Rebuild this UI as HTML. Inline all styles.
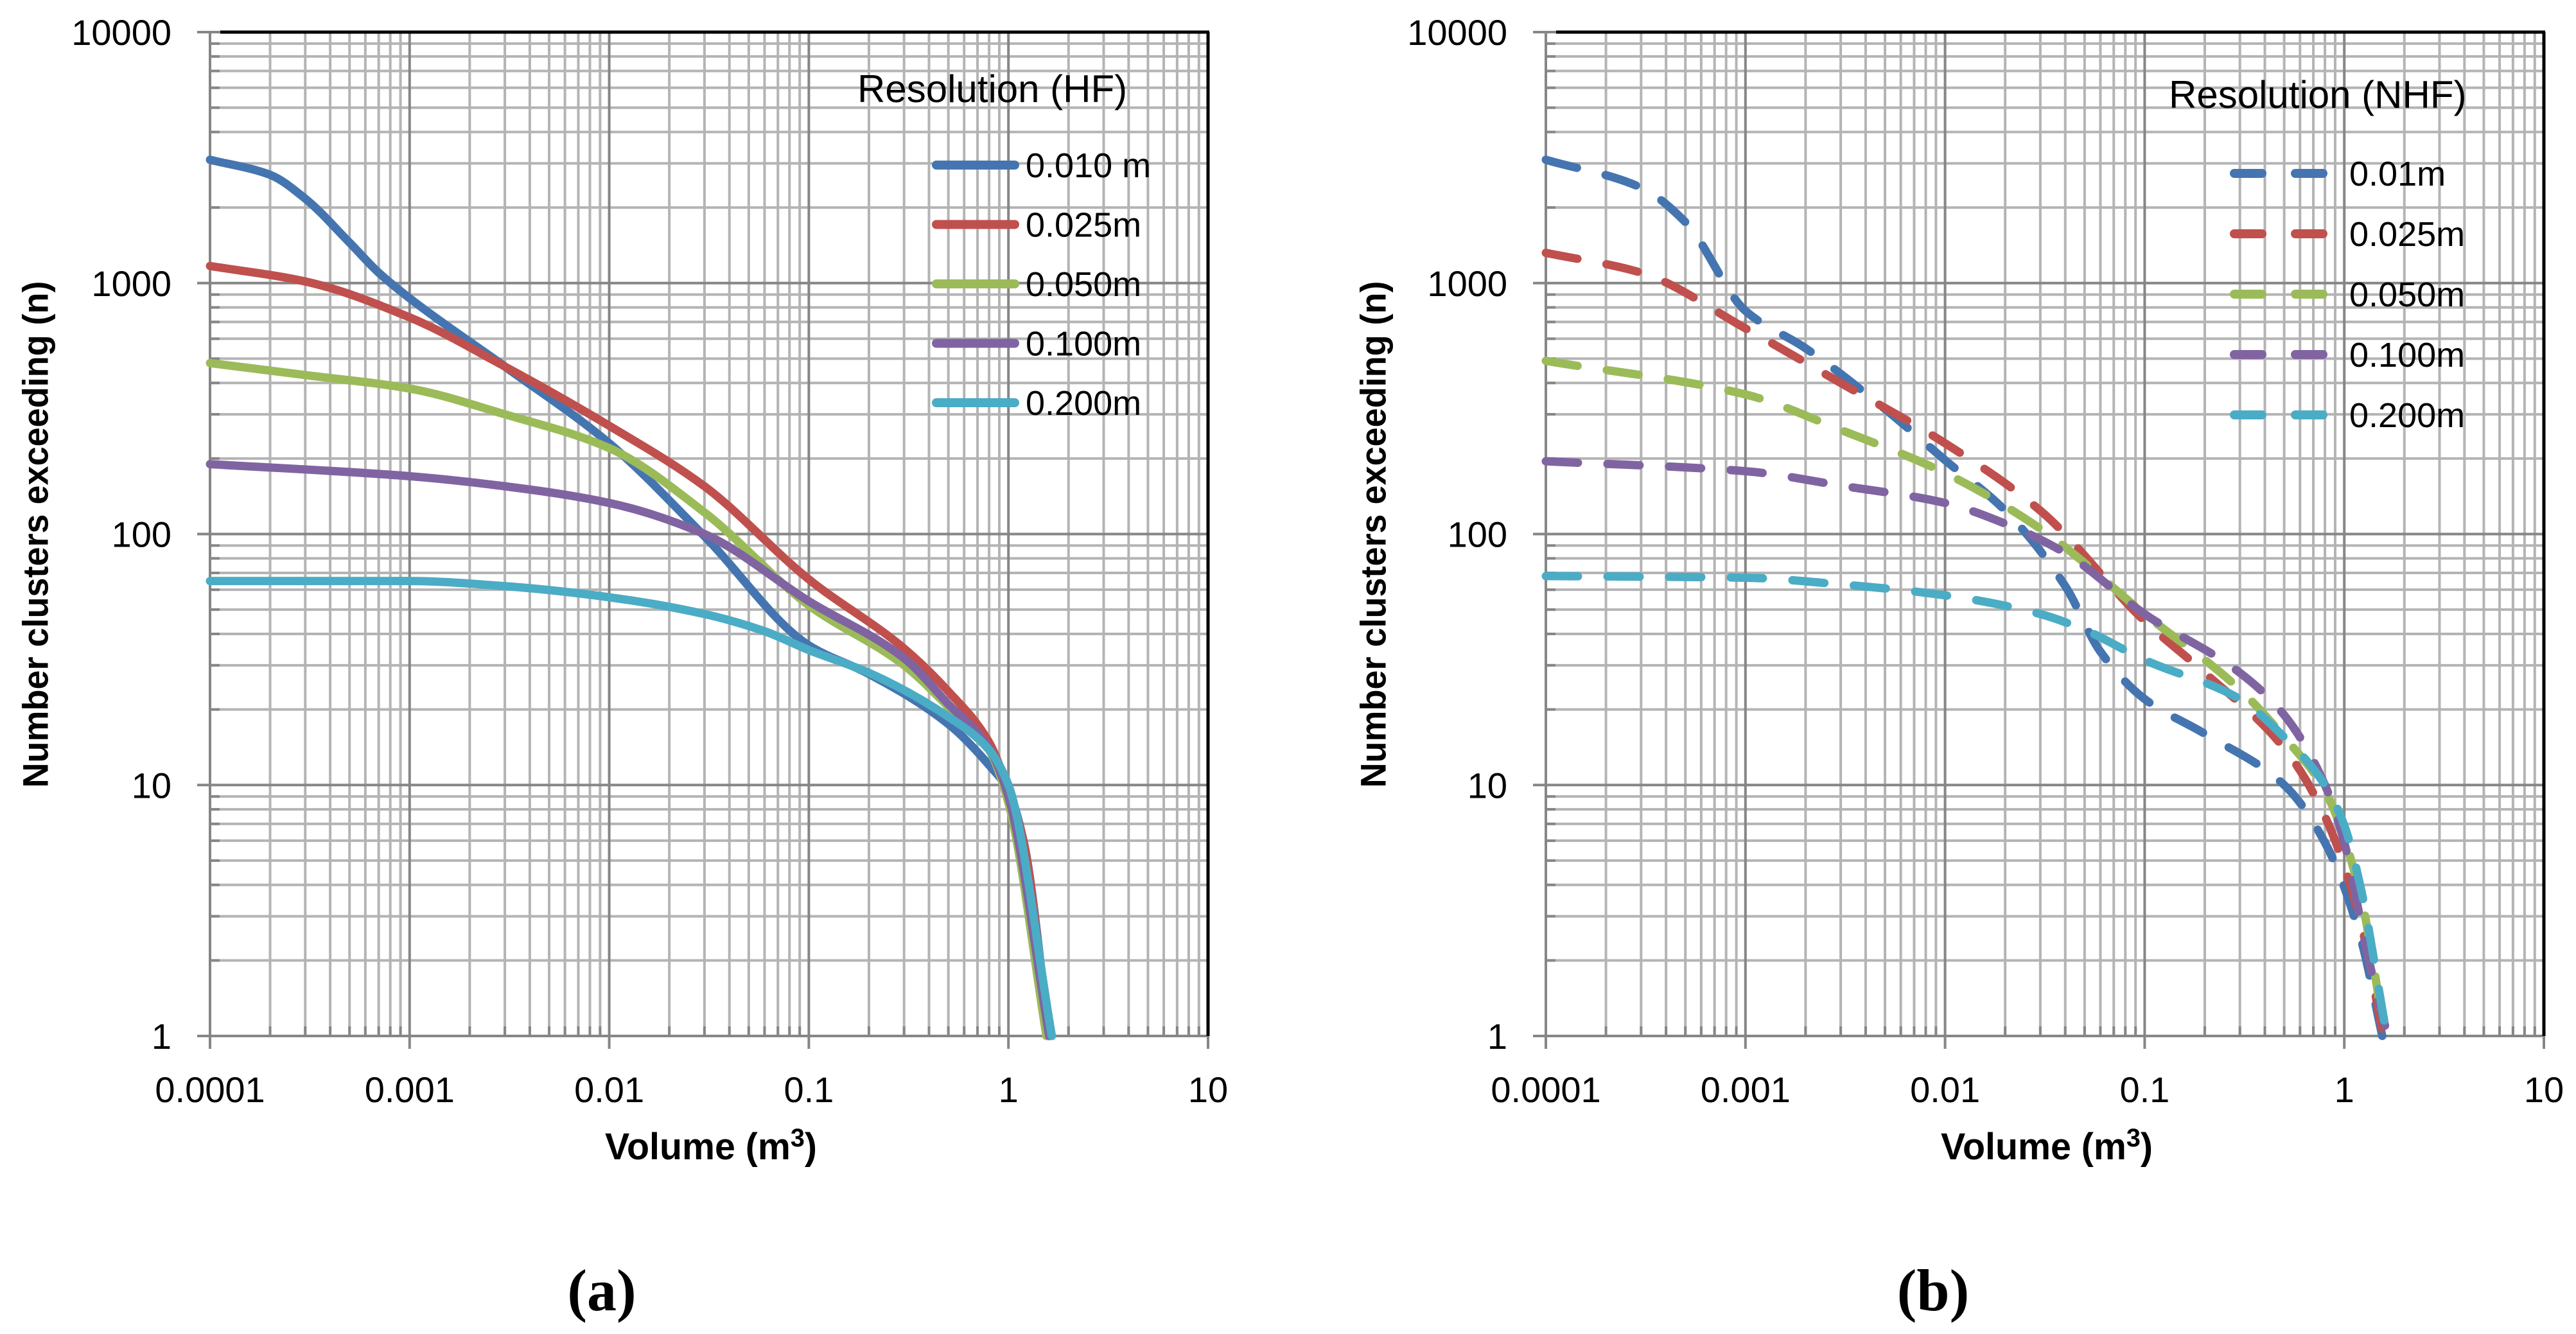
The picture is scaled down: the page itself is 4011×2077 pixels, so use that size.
<!DOCTYPE html>
<html><head><meta charset="utf-8"><style>
html,body{margin:0;padding:0;background:#fff}
svg{display:block}
text{font-family:"Liberation Sans",sans-serif;fill:#000}
</style></head><body>
<svg id="fig" width="4011" height="2077" viewBox="0 0 4011 2077" xmlns="http://www.w3.org/2000/svg">
<g id="plotA"></g>
<g id="plotB"></g>
<text x="937" y="2040" text-anchor="middle" style="font-family:'Liberation Serif',serif;font-size:92px;font-weight:bold">(a)</text>
<text x="3010" y="2040" text-anchor="middle" style="font-family:'Liberation Serif',serif;font-size:92px;font-weight:bold">(b)</text>
</svg>
<script>
const xTickLabels = ["0.0001","0.001","0.01","0.1","1","10"];
const yTickLabels = ["1","10","100","1000","10000"];
const colors = ["#4575b0","#c0504d","#9bbb59","#8064a2","#4bacc6"];
const legendA = ["0.010 m","0.025m","0.050m","0.100m","0.200m"];
const legendB = ["0.01m","0.025m","0.050m","0.100m","0.200m"];

// Panel (a) HF series: volumes and counts
const a1x = [0.0001,0.0002,0.0003,0.0005,0.0007,0.001,0.003,0.01,0.03,0.1,0.2,0.5,0.8,1,1.2,1.6];
const a1y = [3100,2700,2170,1450,1100,870,465,230,98,36,27.7,17.5,12,9.5,5.8,1];
const a2x = [0.0001,0.0003,0.001,0.003,0.01,0.03,0.1,0.3,0.5,0.8,1,1.2,1.58];
const a2y = [1170,1015,730,465,270,155,66,35,23.6,14.8,9.5,5.8,1];
const a3x = [0.0001,0.0003,0.001,0.003,0.01,0.03,0.1,0.3,0.5,0.8,1,1.55];
const a3y = [480,430,380,300,220,122,52,30,20.5,13.8,8.5,1];
const a4x = [0.0001,0.001,0.003,0.01,0.03,0.1,0.3,0.5,0.8,1,1.6];
const a4y = [190,170,155,133,100,54,32,21,14,9,1];
const a5x = [0.0001,0.001,0.003,0.01,0.03,0.06,0.1,0.2,0.5,0.8,1,1.65];
const a5y = [65,65,62,56,48,41,34.5,28,18.7,13.8,10,1];

// Panel (b) NHF series
const b1x = [0.0001,0.0003,0.0005,0.001,0.002,0.005,0.01,0.02,0.04,0.06,0.1,0.2,0.5,0.8,1.2,1.55];
const b1y = [3100,2400,1750,775,550,315,197,124,62,34,22,16,10,5.9,2.5,1];
const b2x = [0.0001,0.0003,0.001,0.003,0.01,0.03,0.1,0.2,0.5,0.8,1.2,1.55];
const b2y = [1320,1100,660,400,230,124,45,28,14,7.5,2.9,1.05];
const b3x = [0.0001,0.001,0.003,0.01,0.03,0.1,0.3,0.5,0.8,1.2,1.6];
const b3y = [490,360,260,175,105,48,24,15.5,9.5,3.7,1];
const b4x = [0.0001,0.001,0.003,0.01,0.02,0.04,0.1,0.3,0.5,0.8,1.0,1.3,1.6];
const b4y = [195,178,156,133,110,84,48,28,19,10,5.9,2.15,1.1];
const b5x = [0.0001,0.001,0.003,0.01,0.03,0.05,0.1,0.3,0.5,0.8,1.0,1.2,1.6];
const b5y = [68,67,63,57,48,41.5,31.5,22,15.5,10,6.9,4,1.1];

const NS="http://www.w3.org/2000/svg";
function mk(parent,tag,attrs){const e=document.createElementNS(NS,tag);for(const k in attrs)e.setAttribute(k,attrs[k]);parent.appendChild(e);return e;}

function monoPath(pts){
  const n=pts.length,dx=[],m=[],t=[];
  for(let i=0;i<n-1;i++){dx[i]=pts[i+1][0]-pts[i][0];m[i]=(pts[i+1][1]-pts[i][1])/dx[i];}
  t[0]=m[0];t[n-1]=m[n-2];
  for(let i=1;i<n-1;i++){
    if(m[i-1]*m[i]<=0)t[i]=0;
    else{const w1=2*dx[i]+dx[i-1],w2=dx[i]+2*dx[i-1];t[i]=(w1+w2)/(w1/m[i-1]+w2/m[i]);}
  }
  let d='M'+pts[0][0]+','+pts[0][1];
  for(let i=0;i<n-1;i++){
    const h=dx[i]/3;
    d+=` C${pts[i][0]+h},${pts[i][1]+t[i]*h} ${pts[i+1][0]-h},${pts[i+1][1]-t[i+1]*h} ${pts[i+1][0]},${pts[i+1][1]}`;
  }
  return d;
}

function drawPanel(g,cfg){
  const L=cfg.left,R=cfg.left+1554,T=50,B=1613;
  const xs=v=>L+(Math.log10(v)+4)*(R-L)/5;
  const ys=v=>B-Math.log10(v)*(B-T)/4;
  for(let d=-4;d<1;d++)for(let m=2;m<10;m++){const x=xs(m*Math.pow(10,d));
    const l=mk(g,'line',{x1:x,x2:x,y1:T,y2:B,stroke:'#b4b4b4','stroke-width':4});
    
    
    const t=mk(g,'line',{x1:x,x2:x,y1:B-15,y2:B,stroke:'#868686','stroke-width':4});
    
    }
  for(let d=0;d<4;d++)for(let m=2;m<10;m++){const y=ys(m*Math.pow(10,d));
    const l=mk(g,'line',{x1:L,x2:R,y1:y,y2:y,stroke:'#b4b4b4','stroke-width':4});
    
    
    const t=mk(g,'line',{x1:L,x2:L+15,y1:y,y2:y,stroke:'#868686','stroke-width':4});
    
    }
  xTickLabels.forEach((lab,i)=>{const x=xs(parseFloat(lab));
    const l=mk(g,'line',{x1:x,x2:x,y1:T,y2:B+20,stroke:'#868686','stroke-width':4});
    
    
    const t=mk(g,'text',{x:x,y:B+103,'text-anchor':'middle','font-size':56});
    t.textContent=lab;
    
    });
  yTickLabels.forEach((lab,i)=>{const y=ys(parseFloat(lab));
    const l=mk(g,'line',{x1:L-20,x2:R,y1:y,y2:y,stroke:'#868686','stroke-width':4});
    
    
    const t=mk(g,'text',{x:L-60,y:y+20,'text-anchor':'end','font-size':56});
    t.textContent=lab;
    
    });
  const tb=mk(g,'line',{x1:L+16,x2:R+2,y1:T,y2:T,stroke:'#000','stroke-width':5});
  
  
  const rb=mk(g,'line',{x1:R,x2:R,y1:T,y2:B,stroke:'#000','stroke-width':5});
  
  
  const xt=mk(g,'text',{x:cfg.left+780,y:1805,'text-anchor':'middle','font-size':58,'font-weight':'bold',textLength:330,lengthAdjust:'spacingAndGlyphs'});
  xt.innerHTML='Volume (m<tspan font-size="40" dy="-20">3</tspan><tspan dy="20">)</tspan>';
  
  
  const yt=mk(g,'text',{x:0,y:0,'text-anchor':'middle','font-size':56,'font-weight':'bold',textLength:789,lengthAdjust:'spacingAndGlyphs',transform:`translate(${cfg.ytx},832) rotate(-90)`,'dominant-baseline':'central'});
  yt.textContent='Number clusters exceeding (n)';
  
  
  cfg.series.forEach((s,i)=>{
    const pts=s[0].map((v,j)=>[xs(v),ys(s[1][j])]);
    const attrs={d:monoPath(pts),fill:'none',stroke:colors[i],'stroke-width':13,'stroke-linecap':'round','stroke-linejoin':'round'};
    if(cfg.dashed)attrs['stroke-dasharray']='50 46';
    const p=mk(g,'path',attrs);
    
    
  });
  const lt=mk(g,'text',{x:cfg.legTitleX,y:cfg.legTitleY,'font-size':60});
  lt.textContent=cfg.legTitle;
  
  
  cfg.legend.forEach((lab,i)=>{
    const y=cfg.legY0+i*cfg.legDy;
    if(cfg.dashed){
      [[cfg.legX0,cfg.legX0+55],[cfg.legX0+95,cfg.legX0+150]].forEach(([a,b])=>{
        const l=mk(g,'line',{x1:a+6,x2:b-6,y1:y,y2:y,stroke:colors[i],'stroke-width':14,'stroke-linecap':'round'});
        
        });
    } else {
      const l=mk(g,'line',{x1:cfg.legX0+6,x2:cfg.legX0+128,y1:y,y2:y,stroke:colors[i],'stroke-width':14,'stroke-linecap':'round'});
      
      
    }
    const t=mk(g,'text',{x:cfg.legTextX,y:y+19,'font-size':54});
    t.textContent=lab;
    
    
  });
}
drawPanel(document.getElementById('plotA'),{left:327,ytx:55,dashed:false,
  series:[[a1x,a1y],[a2x,a2y],[a3x,a3y],[a4x,a4y],[a5x,a5y]],
  legend:legendA,legTitle:'Resolution (HF)',legTitleX:1335,legTitleY:159,
  legX0:1452,legY0:257,legDy:92.5,legTextX:1597});
drawPanel(document.getElementById('plotB'),{left:2407,ytx:2138,dashed:true,
  series:[[b1x,b1y],[b2x,b2y],[b3x,b3y],[b4x,b4y],[b5x,b5y]],
  legend:legendB,legTitle:'Resolution (NHF)',legTitleX:3377,legTitleY:168,
  legX0:3473,legY0:270,legDy:94,legTextX:3658});
</script>
</body></html>
